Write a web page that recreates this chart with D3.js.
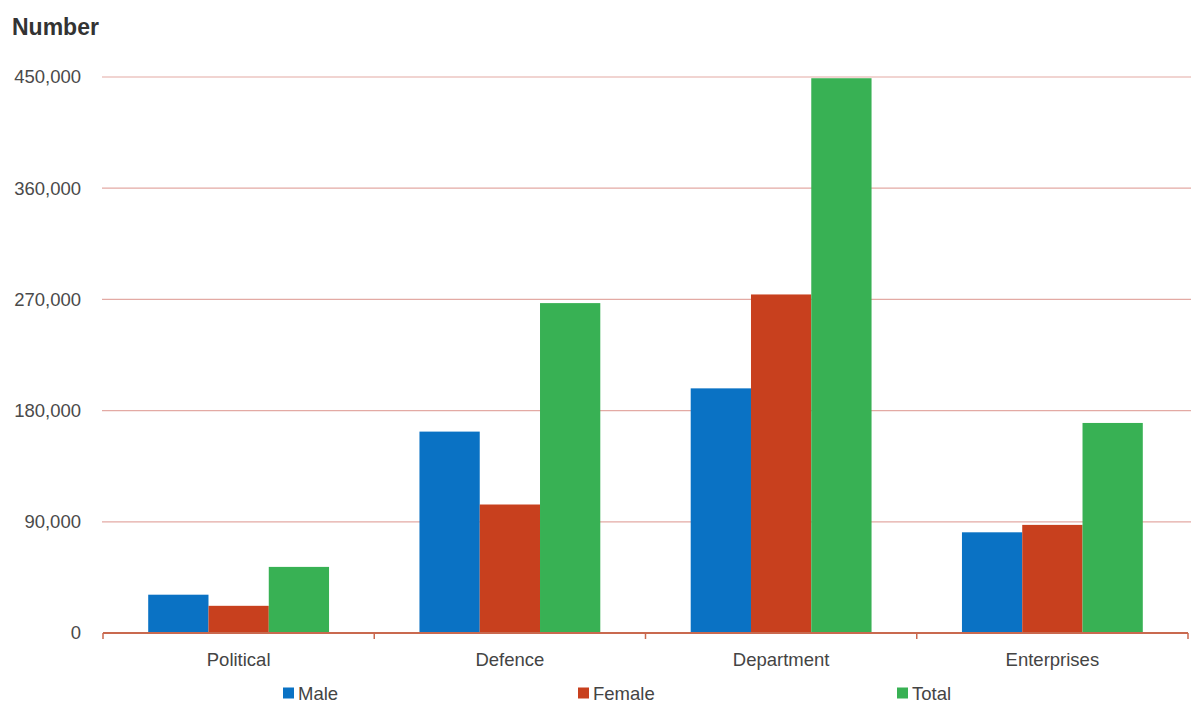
<!DOCTYPE html>
<html><head><meta charset="utf-8">
<script src="https://cdn.jsdelivr.net/npm/d3@7"></script>
<style>
html,body{margin:0;padding:0;background:#fff;}
svg{display:block;font-family:"Liberation Sans",Arial,sans-serif;}
</style></head>
<body>
<svg id="chart" width="1191" height="709"></svg>
<script>
const categories = ["Political", "Defence", "Department", "Enterprises"];
const seriesNames = ["Male", "Female", "Total"];
const maleValues = [31000, 163000, 198000, 81500];
const femaleValues = [22000, 104000, 274000, 87500];
const totalValues = [53500, 267000, 449000, 170000];
const yTicks = [0, 90000, 180000, 270000, 360000, 450000];
const colors = ["#0a72c4", "#c8401e", "#38b154"];

(function draw() {
const seriesValues = [maleValues, femaleValues, totalValues];
const svg = d3.select("#chart");
const mLeft = 103, mRight = 1188, mTop = 77, mBottom = 633;

const x0 = d3.scaleBand().domain(categories).range([mLeft, mRight]).padding(0);
const bw = x0.bandwidth();
const x1 = d3.scaleBand().domain(seriesNames).range([bw / 6, bw * 5 / 6]).padding(0);
const y = d3.scaleLinear().domain([0, 450000]).range([mBottom, mTop]);

// gridlines
svg.append("g").selectAll("line").data(yTicks.filter(d => d > 0)).join("line")
  .attr("x1", mLeft - 1).attr("x2", 1191)
  .attr("y1", d => y(d)).attr("y2", d => y(d))
  .attr("stroke", "#e3aaa4").attr("stroke-width", 1.2);

// y tick labels
const yAxis = d3.axisLeft(y).tickValues(yTicks).tickSize(0).tickPadding(0)
  .tickFormat(d3.format(","));
const gy = svg.append("g").attr("transform", `translate(81,0)`).call(yAxis);
gy.select(".domain").remove();
gy.selectAll("text").attr("fill", "#4a4a4a").attr("font-size", 18.5)
  .attr("font-family", "Liberation Sans, Arial, sans-serif");

// bars
const groups = svg.append("g").selectAll("g").data(categories).join("g")
  .attr("transform", d => `translate(${x0(d)},0)`);
groups.selectAll("rect").data((c, i) => seriesNames.map((s, j) => ({s, v: seriesValues[j][i], j})))
  .join("rect")
  .attr("x", d => x1(d.s)).attr("width", x1.bandwidth())
  .attr("y", d => y(d.v)).attr("height", d => mBottom - y(d.v))
  .attr("fill", d => colors[d.j]);

// x axis
const xAxis = d3.axisBottom(x0).tickSize(0).tickPadding(20);
const gx = svg.append("g").attr("transform", `translate(0,${mBottom})`).call(xAxis);
gx.select(".domain").attr("stroke", "#c9694f").attr("stroke-width", 2.2)
  .attr("d", `M${mLeft},0H${mRight}`);
gx.selectAll("text").attr("fill", "#444").attr("font-size", 18.5)
  .attr("font-family", "Liberation Sans, Arial, sans-serif");
// boundary ticks
svg.append("g").selectAll("line").data(d3.range(categories.length + 1)).join("line")
  .attr("x1", i => mLeft + i * bw).attr("x2", i => mLeft + i * bw)
  .attr("y1", mBottom).attr("y2", mBottom + 6)
  .attr("stroke", "#c9694f").attr("stroke-width", 1.5);

// title
svg.append("text").attr("x", 12).attr("y", 35).text("Number")
  .attr("font-size", 23).attr("font-weight", "bold").attr("fill", "#333");

// legend
const legendX = [283, 578, 897];
const lg = svg.append("g").selectAll("g").data(seriesNames).join("g")
  .attr("transform", (d, i) => `translate(${legendX[i]},693)`);
lg.append("rect").attr("x", 0).attr("y", -5.5).attr("width", 11).attr("height", 11)
  .attr("fill", (d, i) => colors[i]);
lg.append("text").attr("x", 15).attr("y", 0).attr("dy", "0.36em").text(d => d)
  .attr("font-size", 18.5).attr("fill", "#444");
})();
</script>
</body></html>
